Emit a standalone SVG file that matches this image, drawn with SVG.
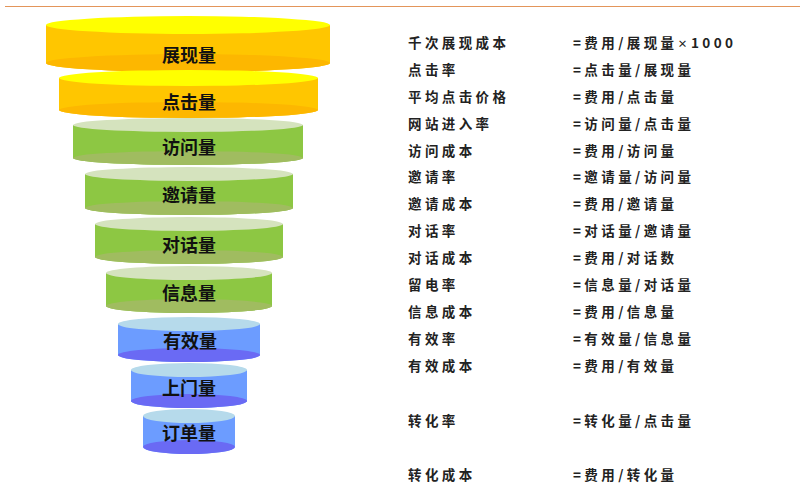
<svg xmlns="http://www.w3.org/2000/svg" width="809" height="485" viewBox="0 0 809 485">
<style>
.lbl{font-family:"Noto Sans CJK SC","Noto Sans",sans-serif;font-weight:bold;font-size:18px;fill:#111;text-anchor:middle}
.row{font-family:"Noto Sans CJK SC","Noto Sans",sans-serif;font-weight:bold;font-size:13.5px;fill:#222;letter-spacing:3.4px}
.sm{font-size:10px}
.yb{fill:#FFC600}.yt{fill:#FFFF00}.ybt{fill:#FDB700}
.gb{fill:#8DC743}.gt{fill:#D5E3BE}.gbt{fill:#A0BC60}
.bb{fill:#6C9CFF}.bt{fill:#B6DAEB}.bbt{fill:#6A6AF4}
</style>
<rect width="809" height="485" fill="#fff"/>
<line x1="5" y1="6.5" x2="800" y2="6.5" stroke="#E3955A" stroke-width="1"/>
<g id="funnel">
<g id="n1"><path class="yb" d="M46,25 L46,63 A142,9 0 0 0 330,63 L330,25 Z"/><ellipse class="ybt" cx="188" cy="63" rx="142" ry="9"/><ellipse class="yt" cx="188" cy="25" rx="142" ry="9"/><text class="lbl" x="189" y="62">展现量</text></g>
<g id="n2"><path class="yb" d="M59,78 L59,110 A129.5,8 0 0 0 318,110 L318,78 Z"/><ellipse class="ybt" cx="188.5" cy="110" rx="129.5" ry="8"/><ellipse class="yt" cx="188.5" cy="78" rx="129.5" ry="8"/><text class="lbl" x="189" y="109">点击量</text></g>
<g id="n3"><path class="gb" d="M73,125 L73,158 A115,7 0 0 0 303,158 L303,125 Z"/><ellipse class="gbt" cx="188" cy="158" rx="115" ry="7"/><ellipse class="gt" cx="188" cy="125" rx="115" ry="7"/><text class="lbl" x="189" y="154">访问量</text></g>
<g id="n4"><path class="gb" d="M85,174 L85,208 A104,7 0 0 0 293,208 L293,174 Z"/><ellipse class="gbt" cx="189" cy="208" rx="104" ry="7"/><ellipse class="gt" cx="189" cy="174" rx="104" ry="7"/><text class="lbl" x="189" y="201.5">邀请量</text></g>
<g id="n5"><path class="gb" d="M95,224 L95,257 A94,7 0 0 0 283,257 L283,224 Z"/><ellipse class="gbt" cx="189" cy="257" rx="94" ry="7"/><ellipse class="gt" cx="189" cy="224" rx="94" ry="7"/><text class="lbl" x="189" y="251.5">对话量</text></g>
<g id="n6"><path class="gb" d="M106,273 L106,306 A83,7 0 0 0 272,306 L272,273 Z"/><ellipse class="gbt" cx="189" cy="306" rx="83" ry="7"/><ellipse class="gt" cx="189" cy="273" rx="83" ry="7"/><text class="lbl" x="189" y="300">信息量</text></g>
<g id="n7"><path class="bb" d="M118,324 L118,355 A71,7 0 0 0 260,355 L260,324 Z"/><ellipse class="bbt" cx="189" cy="355" rx="71" ry="7"/><ellipse class="bt" cx="189" cy="324" rx="71" ry="7"/><text class="lbl" x="190" y="347.5">有效量</text></g>
<g id="n8"><path class="bb" d="M131,370 L131,401 A58,7 0 0 0 247,401 L247,370 Z"/><ellipse class="bbt" cx="189" cy="401" rx="58" ry="7"/><ellipse class="bt" cx="189" cy="370" rx="58" ry="7"/><text class="lbl" x="189" y="394.5">上门量</text></g>
<g id="n9"><path class="bb" d="M143,416 L143,447 A46,7 0 0 0 235,447 L235,416 Z"/><ellipse class="bbt" cx="189" cy="447" rx="46" ry="7"/><ellipse class="bt" cx="189" cy="416" rx="46" ry="7"/><text class="lbl" x="189" y="439.5">订单量</text></g>
</g>
<g id="connectors"/>
<g id="formulas">
<text class="row" x="408" y="48">千次展现成本</text><text class="row" x="573" y="48">=费用/展现量<tspan class="sm">×</tspan>1000</text>
<text class="row" x="408" y="74.5">点击率</text><text class="row" x="573" y="74.5">=点击量/展现量</text>
<text class="row" x="408" y="101.5">平均点击价格</text><text class="row" x="573" y="101.5">=费用/点击量</text>
<text class="row" x="408" y="128.5">网站进入率</text><text class="row" x="573" y="128.5">=访问量/点击量</text>
<text class="row" x="408" y="155.5">访问成本</text><text class="row" x="573" y="155.5">=费用/访问量</text>
<text class="row" x="408" y="181.5">邀请率</text><text class="row" x="573" y="181.5">=邀请量/访问量</text>
<text class="row" x="408" y="208.5">邀请成本</text><text class="row" x="573" y="208.5">=费用/邀请量</text>
<text class="row" x="408" y="235.5">对话率</text><text class="row" x="573" y="235.5">=对话量/邀请量</text>
<text class="row" x="408" y="262.5">对话成本</text><text class="row" x="573" y="262.5">=费用/对话数</text>
<text class="row" x="408" y="289.5">留电率</text><text class="row" x="573" y="289.5">=信息量/对话量</text>
<text class="row" x="408" y="316.5">信息成本</text><text class="row" x="573" y="316.5">=费用/信息量</text>
<text class="row" x="408" y="343.5">有效率</text><text class="row" x="573" y="343.5">=有效量/信息量</text>
<text class="row" x="408" y="370.5">有效成本</text><text class="row" x="573" y="370.5">=费用/有效量</text>
<text class="row" x="408" y="425.5">转化率</text><text class="row" x="573" y="425.5">=转化量/点击量</text>
<text class="row" x="408" y="479.5">转化成本</text><text class="row" x="573" y="479.5">=费用/转化量</text>
</g>
</svg>
